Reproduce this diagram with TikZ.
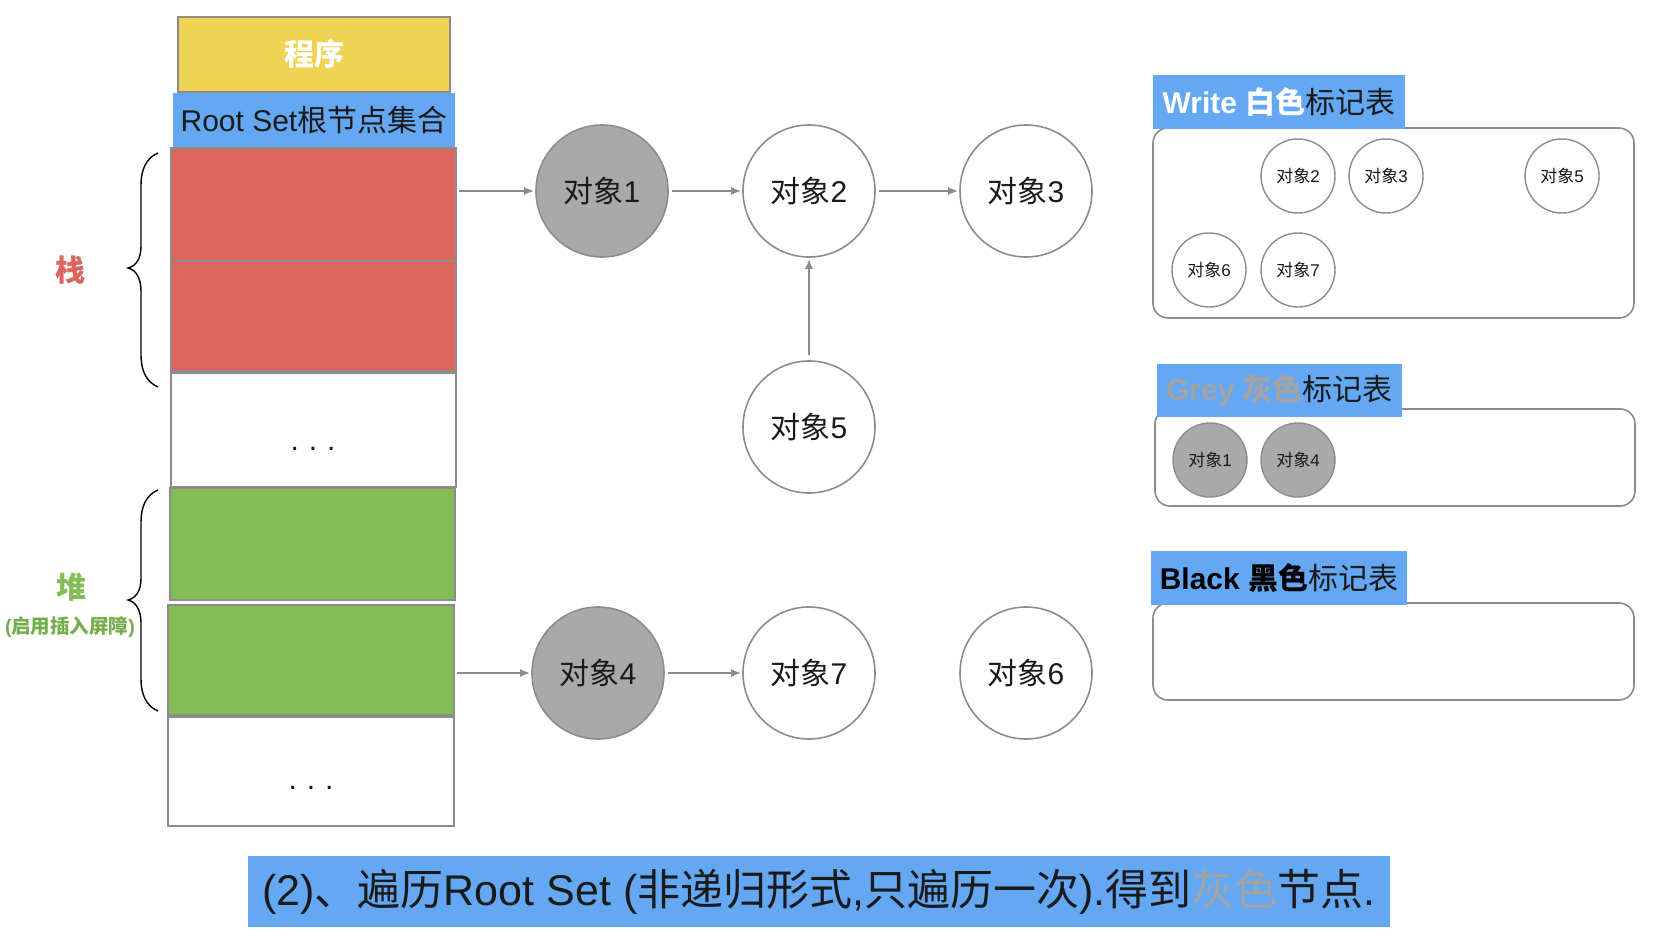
\documentclass[tikz,border=0pt]{standalone}
\usepackage{fontspec}
\setmainfont{Liberation Sans}
\newfontfamily\cjk{Noto Sans CJK SC}
\usetikzlibrary{arrows.meta,calc}
\newcommand\zh[1]{{\cjk #1}}
\definecolor{cyel}{HTML}{F0D352}
\definecolor{cblue}{HTML}{64A7F2}
\definecolor{cred}{HTML}{DC665C}
\definecolor{cgreen}{HTML}{84BC55}
\definecolor{cdgreen}{HTML}{74AE4C}
\definecolor{cgrey}{HTML}{A8A9A8}
\definecolor{lgrey}{HTML}{8C8C8C}
\definecolor{tgrey}{HTML}{A3A3A3}
\definecolor{ink}{HTML}{1A1A1A}
\begin{document}
\begin{tikzpicture}[x=1pt,y=-1pt,
  fs/.style={font=\fontsize{#1}{#1}\selectfont},
  cell/.style={draw=lgrey, line width=1.6pt, inner sep=0pt, outer sep=0pt, anchor=north west},
  obj/.style={circle, draw=lgrey, line width=1.6pt, fill=white, minimum size=132pt, inner sep=0pt, text=ink, fs=30},
  sobj/.style={circle, draw=lgrey, line width=1.4pt, fill=white, minimum size=74pt, inner sep=0pt, text=ink, fs=17},
  gobj/.style={fill=cgrey},
  table/.style={draw=lgrey, line width=1.6pt, rounded corners=15pt, inner sep=0pt, outer sep=0pt, anchor=north west},
  lab/.style={fill=cblue, inner sep=0pt, outer sep=0pt, anchor=north west, fs=30, text=ink},
  arr/.style={draw=lgrey, line width=1.8pt, -{Latex[length=10pt,width=8pt]}, shorten >=1pt, shorten <=3pt},
  brace/.style={draw=black, line width=1.4pt}
]
\path[use as bounding box, fill=white] (0,0) rectangle (1666,942);

% left column
\node[cell, fill=cyel, minimum width=272pt, minimum height=75pt, text=white, fs=30] (prog) at (178,17) {\zh{\bfseries 程序}};
\node[lab, minimum width=282pt, minimum height=54pt] (root) at (173,93) {Root Set\zh{根节点集合}};
\node[cell, fill=cred, minimum width=285pt, minimum height=113pt] (red1) at (171,148) {};
\node[cell, fill=cred, minimum width=285pt, minimum height=110pt] (red2) at (171,261) {};
\node[cell, fill=white, minimum width=285pt, minimum height=114pt] (white1) at (171,373) {};
\node[cell, fill=cgreen, minimum width=285pt, minimum height=112pt] (green1) at (170,488) {};
\node[cell, fill=cgreen, minimum width=286pt, minimum height=110pt] (green2) at (168,605) {};
\node[cell, fill=white, minimum width=286pt, minimum height=109pt] (white2) at (168,717) {};
\node[fs=30, anchor=base, text=ink] (dots1) at (313,450) {.\,\,.\,\,.};
\node[fs=30, anchor=base, text=ink] (dots2) at (311,789) {.\,\,.\,\,.};

% braces and labels
\draw[brace] (158,153) .. controls (146,158) and (141,170) .. (141,185) -- (141,246)
  .. controls (141,259) and (136,266) .. (128,268) .. controls (136,270) and (141,278) .. (141,291)
  -- (141,355) .. controls (141,370) and (146,382) .. (158,387);
\draw[brace] (158,490) .. controls (146,495) and (141,507) .. (141,522) -- (141,578)
  .. controls (141,591) and (136,598) .. (128,600) .. controls (136,602) and (141,610) .. (141,623)
  -- (141,679) .. controls (141,694) and (146,706) .. (158,711);
\node[fs=30, text=cred] (zhan) at (70,270) {\zh{\bfseries 栈}};
\node[fs=30, text=cgreen] (dui) at (71,587) {\zh{\bfseries 堆}};
\node[fs=19.5, text=cdgreen] (duisub) at (70,627) {\bfseries(\zh{启用插入屏障})};

% object graph
\node[obj, gobj] (o1) at (602,191) {\zh{对象}1};
\node[obj] (o2) at (809,191) {\zh{对象}2};
\node[obj] (o3) at (1026,191) {\zh{对象}3};
\node[obj] (o5) at (809,427) {\zh{对象}5};
\node[obj, gobj] (o4) at (598,673) {\zh{对象}4};
\node[obj] (o7) at (809,673) {\zh{对象}7};
\node[obj] (o6) at (1026,673) {\zh{对象}6};

\draw[arr] (red1.east |- o1) -- (o1);
\draw[arr] (o1) -- (o2);
\draw[arr] (o2) -- (o3);
\draw[arr, shorten <=5pt] (o5) -- (o2);
\draw[arr] (green2.east |- o4) -- (o4);
\draw[arr] (o4) -- (o7);

% write table
\node[table, minimum width=481pt, minimum height=190pt] (wbox) at (1153,128) {};
\node[lab, minimum width=252pt, minimum height=54pt] (wlab) at (1153,75) {{\color{white}\bfseries Write \zh{白色}}\zh{标记表}};
\node[sobj] (w2) at (1298,176) {\zh{对象}2};
\node[sobj] (w3) at (1386,176) {\zh{对象}3};
\node[sobj] (w5) at (1562,176) {\zh{对象}5};
\node[sobj] (w6) at (1209,270) {\zh{对象}6};
\node[sobj] (w7) at (1298,270) {\zh{对象}7};

% grey table
\node[table, minimum width=480pt, minimum height=97pt] (gbox) at (1155,409) {};
\node[lab, minimum width=245pt, minimum height=53pt] (glab) at (1157,364) {{\color{tgrey}\bfseries Grey \zh{灰色}}\zh{标记表}};
\node[sobj, gobj] (g1) at (1210,460) {\zh{对象}1};
\node[sobj, gobj] (g4) at (1298,460) {\zh{对象}4};

% black table
\node[table, minimum width=481pt, minimum height=97pt] (bbox) at (1153,603) {};
\node[lab, minimum width=256pt, minimum height=54pt] (blab) at (1151,551) {{\color{black}\bfseries Black \zh{黑色}}\zh{标记表}};

% caption
\node[lab, minimum width=1142pt, minimum height=71pt, fs=43] (cap) at (248,856)
  {(2)\zh{、遍历}Root Set (\zh{非递归形式},\zh{只遍历一次}).\zh{得到}{\color{tgrey}\zh{灰色}}\zh{节点}.};
\end{tikzpicture}
\end{document}
